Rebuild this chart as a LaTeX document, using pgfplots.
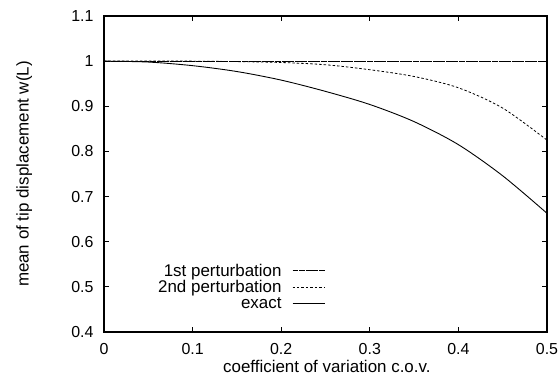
\documentclass[border=0pt]{standalone}
\usepackage{fontspec}
\setmainfont{Liberation Sans}
\usepackage{pgfplots}
\pgfplotsset{compat=1.18}
\begin{document}
\begin{tikzpicture}
\useasboundingbox (-104bp,-45bp) rectangle (454bp,332bp);
\begin{axis}[
  scale only axis,
  width=443bp, height=316bp,
  xmin=0, xmax=0.5, ymin=0.4, ymax=1.1,
  xtick={0,0.1,0.2,0.3,0.4,0.5},
  ytick={0.4,0.5,0.6,0.7,0.8,0.9,1,1.1},
  tick align=inside,
  major tick length=5bp,
  axis line style={line width=1.2pt},
  every tick/.style={line width=0.8pt,black},
  /pgf/number format/assume math mode=true,
  tick label style={font=\fontsize{16}{18}\selectfont},
  xticklabel style={anchor=center, yshift=-17bp},
  yticklabel style={anchor=east, xshift=-7bp},
  xlabel={coefficient of variation c.o.v.},
  ylabel={mean of tip displacement w(L)},
  xlabel style={font=\fontsize{17}{19}\selectfont, at={(axis description cs:0.503,-0.108)}, anchor=center},
  ylabel style={font=\fontsize{17}{19}\selectfont, at={(axis description cs:-0.18,0.5)}, anchor=center, rotate=0},
  legend plot pos=right,
  legend cell align=right,
  legend style={draw=none, fill=none, at={(0.499,0.063)}, anchor=south east,
    font=\fontsize{17}{19}\selectfont, row sep=-1pt, inner sep=0pt},
  legend image code/.code={\path[draw=none,fill=none] (0bp,0bp) -- (9bp,0bp); \draw[#1] (9bp,0bp) -- (41bp,0bp);},
  legend image post style={line width=0.7pt},
]
\addplot[black, line width=0.9pt, dash pattern=on 6pt off 0.6pt] coordinates {(0,1) (0.5,1)};
\addlegendentry{1st perturbation}
\addplot[black, line width=0.8pt, dash pattern=on 2.5pt off 2pt, smooth] coordinates {
(0,1) (0.05,1) (0.1,1.0) (0.15,0.999) (0.2,0.997) (0.25,0.992) (0.3,0.981) (0.35,0.966) (0.4,0.941) (0.45,0.896) (0.5,0.825)};
\addlegendentry{2nd perturbation}
\addplot[black, line width=0.9pt, smooth] coordinates {
(0,1) (0.05,0.998) (0.1,0.99) (0.15,0.977) (0.2,0.958) (0.25,0.933) (0.3,0.904) (0.35,0.866) (0.4,0.815) (0.45,0.746) (0.5,0.663)};
\addlegendentry{exact}
\end{axis}
\end{tikzpicture}
\end{document}
